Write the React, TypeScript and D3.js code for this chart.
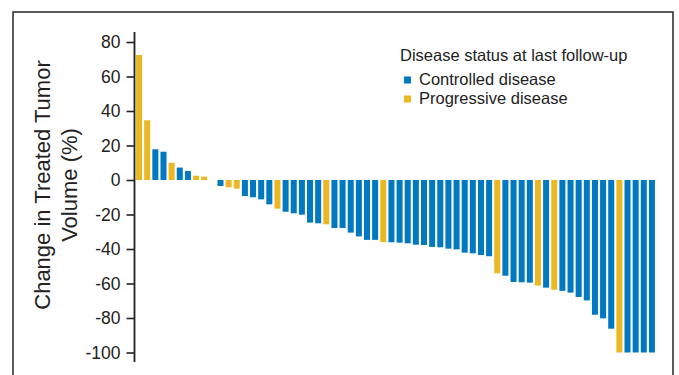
import React, { useEffect, useRef } from "react";
import * as d3 from "d3";

// change in treated tumor volume (%) per patient, sorted waterfall
const volumeChange = [
	72.5, 34.6, 17.8, 16.4, 10, 7.2, 5.2, 2.5, 1.9, 0,
	-3.5, -4.2, -5, -9.3, -10, -11.2, -14.1, -16.6, -18.4, -19.3,
	-20.1, -24.7, -25.1, -25.7, -27.8, -27.8, -30.5, -32.7, -34.7, -34.7,
	-36.0, -36.1, -36.3, -36.7, -37.5, -37.7, -38.8, -39.0, -39.8, -40.2,
	-42.1, -42.5, -43.5, -44.2, -54.1, -55.5, -59.1, -59.3, -59.5, -61.2,
	-62.4, -63.6, -64.3, -65.3, -67.8, -69.8, -78.1, -80.2, -86.2, -100,
	-100, -100, -100, -100,
];

// C = controlled disease, P = progressive disease
const status = [
	"P", "P", "C", "C", "P", "C", "C", "P", "P", "C",
	"C", "P", "P", "C", "C", "C", "C", "P", "C", "C",
	"C", "C", "C", "P", "C", "C", "C", "C", "C", "C",
	"P", "C", "C", "C", "C", "C", "C", "C", "C", "C",
	"C", "C", "C", "C", "P", "C", "C", "C", "C", "P",
	"C", "P", "C", "C", "C", "C", "C", "C", "C", "P",
	"C", "C", "C", "C",
];

const yTicks = [80, 60, 40, 20, 0, -20, -40, -60, -80, -100];

const legendItems = [
	{ key: "C", label: "Controlled disease" },
	{ key: "P", label: "Progressive disease" },
];

const colors: Record<string, string> = { C: "#0079c1", P: "#e9b823" };

const font = "'Liberation Sans', Arial, sans-serif";

export default function App() {
	const ref = useRef<SVGSVGElement | null>(null);

	useEffect(() => {
		if (!ref.current) return;
		const svg = d3.select(ref.current);
		svg.selectAll("*").remove();

		const data = volumeChange.map((v, i) => ({ i, v, s: status[i] }));

		const x = d3
			.scaleBand<number>()
			.domain(data.map((d) => d.i))
			.range([135, 656])
			.paddingInner(0.26)
			.paddingOuter(0.13);

		const y = d3.scaleLinear().domain([-100, 80]).range([352.5, 42]);

		// outer frame
		svg.append("rect")
			.attr("x", 13)
			.attr("y", 12)
			.attr("width", 660)
			.attr("height", 380)
			.attr("fill", "none")
			.attr("stroke", "#333")
			.attr("stroke-width", 1.6);

		// bars
		svg.append("g")
			.selectAll("rect")
			.data(data)
			.enter()
			.append("rect")
			.attr("x", (d) => x(d.i)!)
			.attr("width", x.bandwidth())
			.attr("y", (d) => y(Math.max(0, d.v)))
			.attr("height", (d) => Math.abs(y(d.v) - y(0)))
			.attr("fill", (d) => colors[d.s]);

		// y axis
		const axisX = 134.5;
		const axis = svg
			.append("g")
			.attr("transform", `translate(${axisX},0)`)
			.call(
				d3
					.axisLeft(y)
					.tickValues(yTicks)
					.tickSize(8)
					.tickPadding(6)
					.tickFormat((d) => String(d))
			);
		axis.select(".domain").remove();
		axis.selectAll(".tick line").attr("stroke", "#222").attr("stroke-width", 1.6);
		axis.selectAll(".tick text")
			.attr("fill", "#222")
			.style("font-family", font)
			.style("font-size", "17.5px");
		svg.append("line")
			.attr("x1", axisX)
			.attr("x2", axisX)
			.attr("y1", 32)
			.attr("y2", 362)
			.attr("stroke", "#222")
			.attr("stroke-width", 1.8);

		// y title
		const title = svg
			.append("text")
			.attr("transform", "translate(50,185) rotate(-90)")
			.attr("text-anchor", "middle")
			.attr("fill", "#222")
			.style("font-family", font)
			.style("font-size", "22px");
		title.append("tspan").attr("x", 0).attr("dy", 0).text("Change in Treated Tumor");
		title.append("tspan").attr("x", 0).attr("dy", 27).text("Volume (%)");

		// legend
		const lg = svg.append("g").attr("transform", "translate(400,0)");
		lg.append("text")
			.attr("x", 0)
			.attr("y", 61)
			.attr("fill", "#222")
			.style("font-family", font)
			.style("font-size", "16.5px")
			.text("Disease status at last follow-up");
		legendItems.forEach((item, k) => {
			const yy = 85 + k * 19;
			lg.append("rect")
				.attr("x", 4)
				.attr("y", yy - 8.5)
				.attr("width", 7)
				.attr("height", 7)
				.attr("fill", colors[item.key]);
			lg.append("text")
				.attr("x", 19)
				.attr("y", yy)
				.attr("fill", "#222")
				.style("font-family", font)
				.style("font-size", "16.5px")
				.text(item.label);
		});
	}, []);

	return (
		<div style={{ position: "absolute", left: 0, top: 0 }}>
			<svg ref={ref} width={679} height={375} style={{ display: "block" }} />
		</div>
	);
}
